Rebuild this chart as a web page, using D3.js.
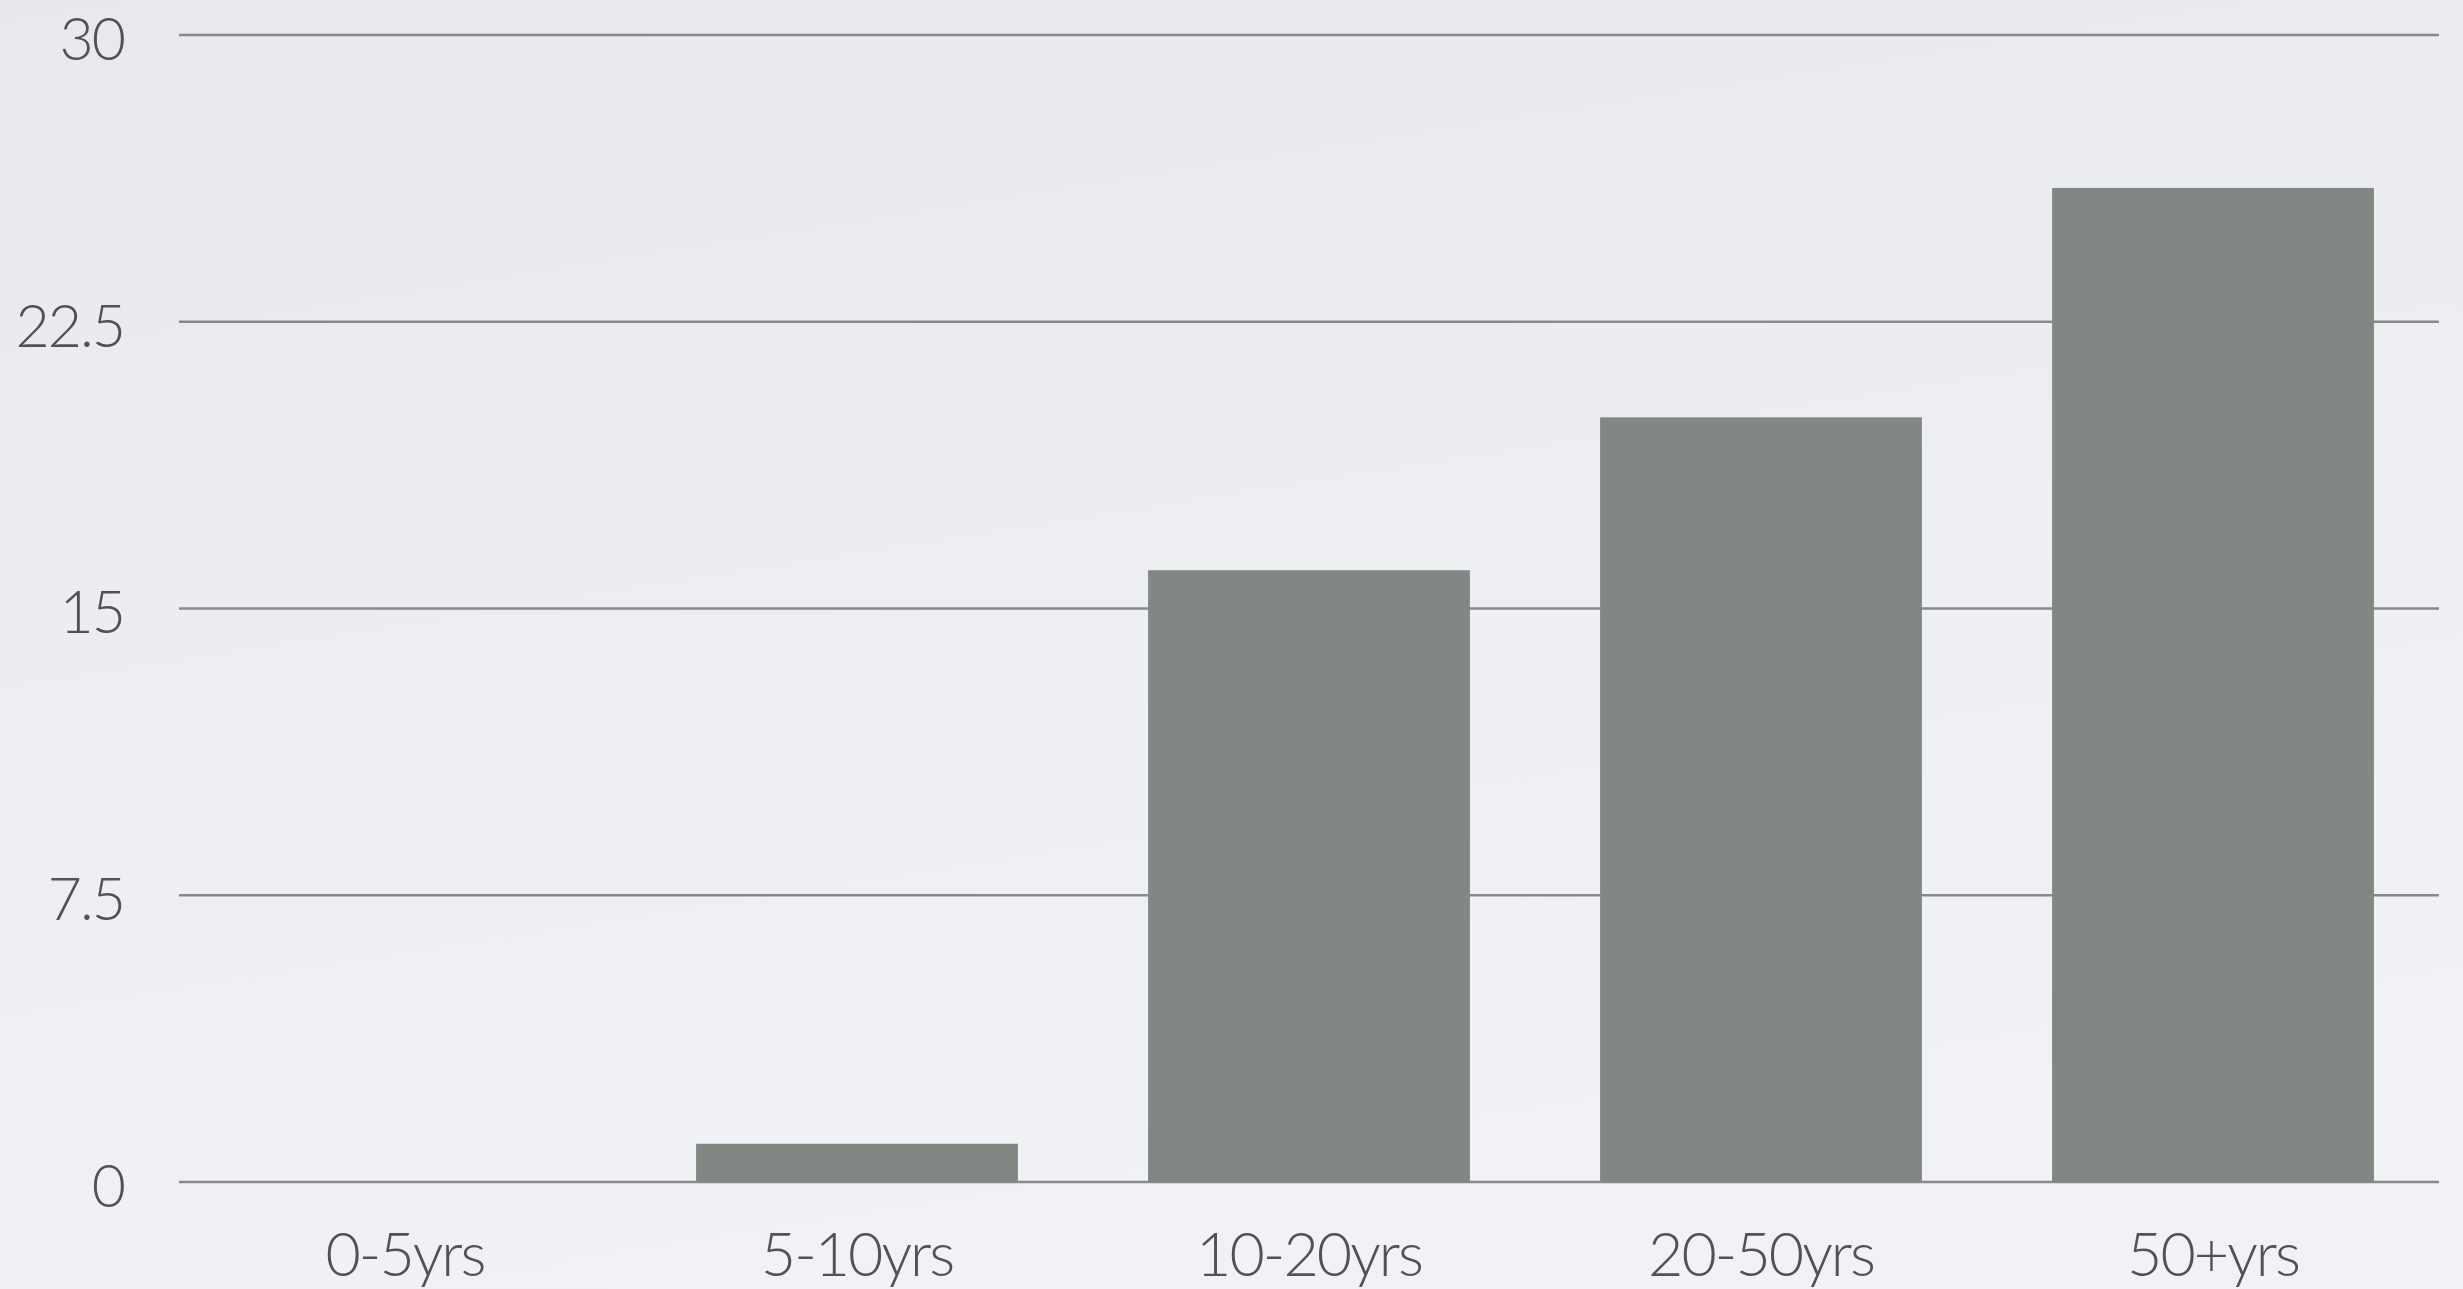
<!DOCTYPE html>
<html>
<head>
<meta charset="utf-8">
<script src="https://cdn.jsdelivr.net/npm/d3@7"></script>
<style>
  html, body { margin: 0; padding: 0; }
  body { width: 2463px; height: 1289px; overflow: hidden; background: #eceef1; }
  svg text { font-family: "Lato", "Open Sans", sans-serif; font-weight: 300; fill: #505254; letter-spacing: -2px; }
</style>
</head>
<body>
<svg id="chart" width="2463" height="1289"></svg>
<script>
const categories = ["0-5yrs", "5-10yrs", "10-20yrs", "20-50yrs", "50+yrs"];
const values = [0, 1, 16, 20, 26];
const yTicks = [0, 7.5, 15, 22.5, 30];
const yTickLabels = ["0", "7.5", "15", "22.5", "30"];

const W = 2463, H = 1289;
const mLeft = 179, mRight = 2439, mTop = 35, mBottom = 1182;

const svg = d3.select("#chart");

const defs = svg.append("defs");
const grad = defs.append("linearGradient").attr("id", "bg").attr("x1", 0).attr("y1", 0).attr("x2", 0.3).attr("y2", 1);
grad.append("stop").attr("offset", "0%").attr("stop-color", "#e7e9ec");
grad.append("stop").attr("offset", "100%").attr("stop-color", "#f1f2f5");
svg.append("rect").attr("width", W).attr("height", H).attr("fill", "url(#bg)");

const x = d3.scaleBand().domain(categories).range([mLeft, mRight]).paddingInner(0.288).paddingOuter(0.144);
const y = d3.scaleLinear().domain([0, 30]).range([mBottom, mTop]);

// gridlines
svg.append("g").selectAll("line").data(yTicks).join("line")
  .attr("x1", mLeft).attr("x2", mRight)
  .attr("y1", d => y(d)).attr("y2", d => y(d))
  .attr("stroke", "#87898a").attr("stroke-width", 2.4);

// bars
svg.append("g").selectAll("rect").data(values).join("rect")
  .attr("x", (d, i) => x(categories[i]))
  .attr("width", x.bandwidth())
  .attr("y", d => y(d))
  .attr("height", d => y(0) - y(d))
  .attr("fill", "#828784");

// y labels
svg.append("g").selectAll("text").data(yTicks).join("text")
  .attr("x", 124)
  .attr("y", d => y(d))
  .attr("dy", "0.42em")
  .attr("text-anchor", "end")
  .attr("font-size", 59)
  .text((d, i) => yTickLabels[i]);

// x labels
svg.append("g").selectAll("text").data(categories).join("text")
  .attr("x", d => x(d) + x.bandwidth() / 2)
  .attr("y", 1276)
  .attr("text-anchor", "middle")
  .attr("font-size", 61)
  .text(d => d);
</script>
</body>
</html>
